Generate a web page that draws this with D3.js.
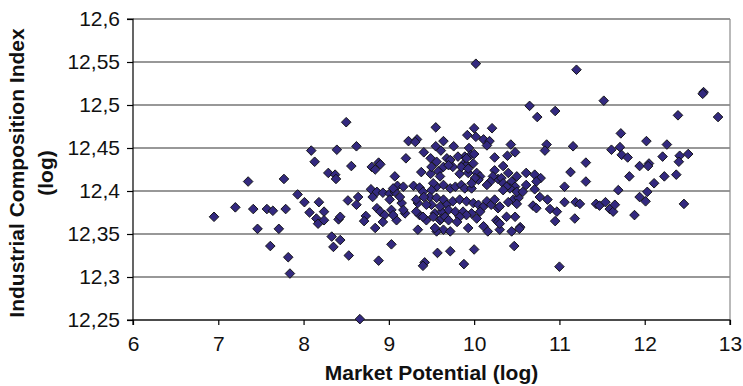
<!DOCTYPE html>
<html>
<head>
<meta charset="utf-8">
<script src="https://cdn.jsdelivr.net/npm/d3@7"></script>
<style>
  body { margin: 0; background: #fff; }
  svg text { font-family: "Liberation Sans", Arial, sans-serif; fill: #111; }
</style>
</head>
<body>
<svg id="chart" width="743" height="386"></svg>
<script>
// axis ticks
const xTicks = [6, 7, 8, 9, 10, 11, 12, 13];
const yTicks = [12.25, 12.3, 12.35, 12.4, 12.45, 12.5, 12.55, 12.6];

// market potential (log), industrial composition index (log)
const points = [
  [6.95,12.370],[7.20,12.381],[7.35,12.411],[7.41,12.379],[7.46,12.356],[7.57,12.379],[7.64,12.377],
  [7.61,12.336],[7.71,12.356],[7.77,12.414],[7.79,12.379],[7.82,12.323],[7.84,12.304],[7.93,12.396],
  [8.01,12.387],[8.07,12.375],[8.09,12.447],[8.13,12.434],[8.18,12.387],[8.24,12.376],[8.15,12.368],
  [8.17,12.362],[8.24,12.366],[8.29,12.421],[8.37,12.419],[8.38,12.414],[8.39,12.448],[8.33,12.347],
  [8.35,12.335],[8.43,12.343],[8.41,12.367],[8.43,12.370],[8.50,12.480],[8.52,12.389],[8.56,12.429],
  [8.53,12.325],[8.62,12.452],[8.64,12.393],[8.62,12.384],[8.66,12.251],[8.73,12.371],[8.71,12.365],
  [8.80,12.428],[8.84,12.425],[8.79,12.402],[8.81,12.393],[8.86,12.380],[8.84,12.357],[8.88,12.319],
  [8.88,12.433],
  [10.02,12.548],[10.65,12.499],[10.74,12.486],[9.55,12.474],[10.00,12.473],[10.21,12.473],[9.92,12.465],
  [10.02,12.463],[9.23,12.458],[9.33,12.460],[9.31,12.457],[9.64,12.458],[10.11,12.460],[10.18,12.458],
  [10.15,12.453],[10.43,12.454],[10.48,12.445],[10.39,12.441],[9.55,12.452],[9.61,12.447],[9.76,12.452],
  [9.41,12.445],[9.94,12.450],[9.96,12.442],[10.00,12.443],[10.24,12.439],[9.20,12.438],[9.49,12.438],
  [9.68,12.438],[9.72,12.436],[9.89,12.440],[9.87,12.431],[9.91,12.430],[8.90,12.431],[9.07,12.417],
  [9.38,12.422],[9.49,12.420],[9.58,12.423],[9.64,12.428],[9.75,12.428],[9.83,12.420],[9.93,12.421],
  [10.03,12.421],[10.24,12.424],[10.34,12.429],[10.50,12.417],[10.61,12.421],[10.71,12.419],[10.28,12.414],
  [10.22,12.417],[9.10,12.406],[9.17,12.405],
  [9.56,12.434],[9.70,12.430],[9.81,12.440],[9.91,12.438],[9.85,12.428],[9.93,12.426],[9.99,12.432],
  [10.07,12.417],[10.05,12.413],[10.01,12.415],[10.32,12.415],[10.40,12.421],[10.44,12.411],[10.19,12.411],
  [10.15,12.407],[10.48,12.405],[10.42,12.403],[9.56,12.405],[9.52,12.409],[9.50,12.401],[9.64,12.407],
  [9.72,12.403],[9.78,12.405],[9.85,12.407],[9.89,12.403],[9.97,12.403],[9.97,12.409],[9.48,12.393],
  [9.56,12.392],[9.64,12.390],[9.68,12.384],[9.75,12.388],[9.83,12.390],[9.91,12.388],[9.99,12.386],
  [10.05,12.384],[10.11,12.382],[10.15,12.388],[10.20,12.384],[10.24,12.390],[10.46,12.390],[10.52,12.392],
  [10.28,12.380],[9.54,12.374],[9.62,12.376],[9.70,12.378],[9.52,12.370],[9.60,12.366],[9.78,12.376],
  [9.87,12.376],[9.97,12.374],[10.07,12.376],[9.91,12.372],[9.83,12.370],[10.03,12.368],[10.26,12.366],
  [10.11,12.359],[10.16,12.353],[9.64,12.355],[9.72,12.353],[9.56,12.353],[9.93,12.357],[10.48,12.370],
  [10.38,12.370],
  [9.50,12.428],[9.60,12.417],[8.86,12.399],[8.93,12.398],[9.01,12.397],[9.07,12.399],[9.05,12.403],
  [9.29,12.406],[9.36,12.404],[9.40,12.399],[9.01,12.390],[9.15,12.386],[8.90,12.376],[8.95,12.372],
  [9.03,12.378],[9.19,12.374],[9.09,12.366],[8.93,12.364],[9.34,12.386],[9.36,12.372],[9.44,12.366],
  [9.50,12.384],[9.60,12.382],[9.54,12.357],
  [9.34,12.355],[9.03,12.338],[9.57,12.328],[9.42,12.317],[9.40,12.313],[9.32,12.376],[9.40,12.370],
  [9.13,12.393],[9.41,12.393],[9.32,12.390],[9.05,12.372],[9.17,12.378],[9.44,12.384],[9.62,12.368],
  [9.66,12.370],[9.70,12.366],[9.80,12.364],[10.28,12.364],[9.72,12.330],[10.00,12.332],[9.88,12.315],
  [11.20,12.541],[12.69,12.515],[12.68,12.513],[11.52,12.505],[10.95,12.493],[12.39,12.488],[12.86,12.486],
  [11.72,12.467],[12.02,12.458],[12.26,12.454],[10.85,12.454],[10.83,12.447],[11.16,12.452],[11.61,12.448],
  [11.71,12.451],[11.73,12.442],[11.80,12.439],[12.21,12.440],[12.41,12.441],[12.51,12.443],[12.40,12.434],
  [11.31,12.433],[11.94,12.429],[12.05,12.432],[12.04,12.429],[11.13,12.422],[10.78,12.415],[11.82,12.417],
  [12.23,12.417],[12.37,12.419],[11.31,12.411],[12.11,12.409],[11.06,12.405],[10.34,12.409],[10.38,12.405],
  [10.34,12.401],[10.50,12.399],[10.57,12.399],[10.61,12.407],[10.71,12.402],[10.73,12.411],[10.77,12.393],
  [11.69,12.401],[12.03,12.399],[10.40,12.387],[10.50,12.385],[10.86,12.390],[10.69,12.383],[10.73,12.380],
  [10.89,12.379],[10.97,12.376],[10.95,12.365],[11.06,12.387],[11.19,12.387],[11.24,12.385],[11.18,12.368],
  [11.43,12.385],[11.47,12.383],[11.54,12.387],[11.59,12.379],[11.63,12.376],[11.65,12.384],[11.94,12.393],
  [12.01,12.388],[11.88,12.372],[12.46,12.385],[10.30,12.355],[10.44,12.353],[10.54,12.358],[10.53,12.356],
  [10.47,12.336],[11.00,12.312],[10.30,12.382],[10.30,12.362]
];

const svg = d3.select('#chart');
const plotLeft = 133, plotRight = 730, plotTop = 19, plotBottom = 320;

const x = d3.scaleLinear().domain([6, 13]).range([plotLeft, plotRight]);
const y = d3.scaleLinear().domain([12.25, 12.6]).range([plotBottom, plotTop]);
const fmt = d => d3.format('')(d).replace('.', ',');

// horizontal gridlines
svg.append('g')
   .selectAll('line')
   .data(yTicks)
   .join('line')
   .attr('x1', plotLeft)
   .attr('x2', plotRight)
   .attr('y1', d => y(d))
   .attr('y2', d => y(d))
   .attr('stroke', '#333')
   .attr('stroke-width', 1.1);

// plot border on the right
svg.append('line')
   .attr('x1', plotRight).attr('x2', plotRight)
   .attr('y1', plotTop).attr('y2', plotBottom)
   .attr('stroke', '#8a8a8a')
   .attr('stroke-width', 1.2);

const xAxis = svg.append('g')
   .attr('transform', `translate(0,${plotBottom})`)
   .call(d3.axisBottom(x).tickValues(xTicks).tickSize(5).tickPadding(11).tickFormat(fmt));
const yAxis = svg.append('g')
   .attr('transform', `translate(${plotLeft},0)`)
   .call(d3.axisLeft(y).tickValues(yTicks).tickSize(6).tickPadding(7).tickFormat(fmt));

[xAxis, yAxis].forEach(a => {
  a.select('.domain').attr('stroke', '#000').attr('stroke-width', 1.2);
  a.selectAll('.tick line').attr('stroke', '#000').attr('stroke-width', 1.2);
  a.selectAll('.tick text')
   .style('font-family', '"Liberation Sans", Arial, sans-serif')
   .style('font-size', '21px')
   .attr('fill', '#111');
});
yAxis.select('.domain').attr('d', `M-6,${plotBottom}H0V${plotTop}H-6`);
xAxis.select('.domain').attr('d', `M${plotLeft},5V0H${plotRight}V5`);

// markers
svg.append('g')
   .selectAll('path')
   .data(points)
   .join('path')
   .attr('d', d3.symbol(d3.symbolSquare, 46))
   .attr('transform', d => `translate(${x(d[0])},${y(d[1])}) rotate(45)`)
   .attr('fill', '#33297f')
   .attr('stroke', '#111')
   .attr('stroke-width', 0.9);

// titles
svg.append('text')
   .attr('x', (plotLeft + plotRight) / 2)
   .attr('y', 380)
   .attr('text-anchor', 'middle')
   .style('font-size', '21px')
   .style('font-weight', 'bold')
   .text('Market Potential (log)');

const yt = svg.append('text')
   .attr('transform', 'translate(0,173) rotate(-90)')
   .attr('text-anchor', 'middle')
   .style('font-size', '21px')
   .style('font-weight', 'bold');
yt.append('tspan').attr('x', 0).attr('y', 24).text('Industrial Composition Index');
yt.append('tspan').attr('x', 0).attr('y', 53).text('(log)');
</script>
</body>
</html>
